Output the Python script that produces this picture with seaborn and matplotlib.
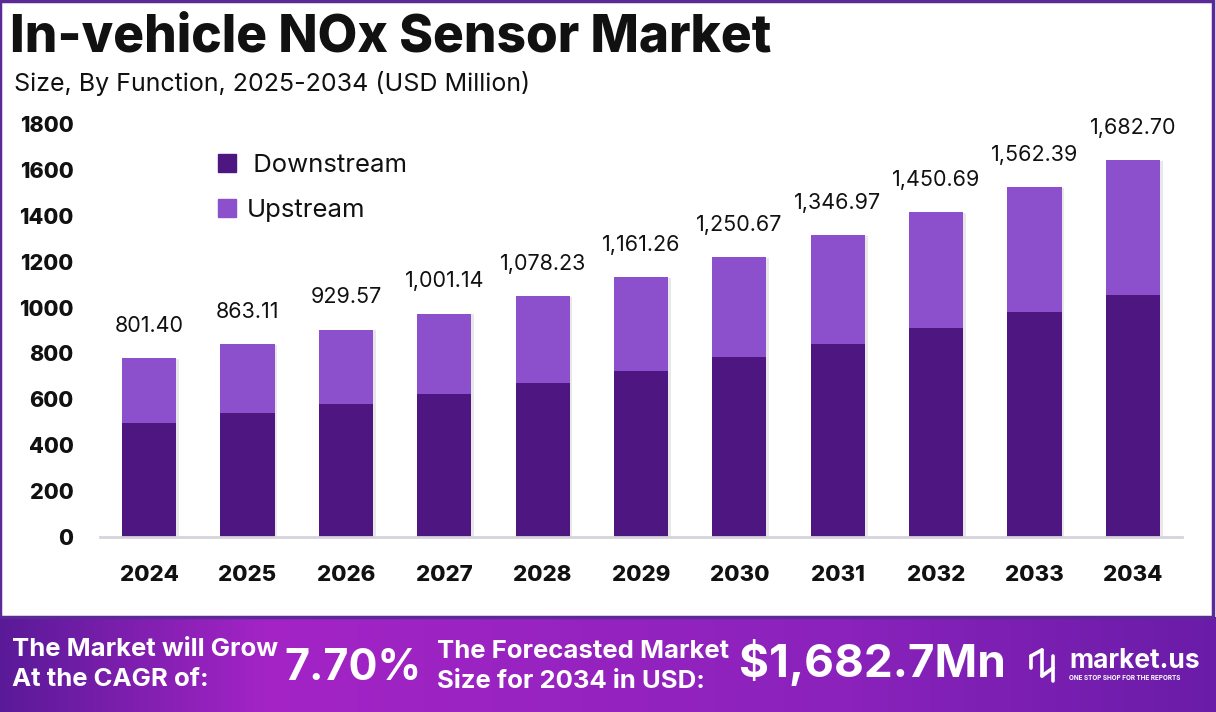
import numpy as np
import pandas as pd
import matplotlib
matplotlib.use("Agg")
import matplotlib.pyplot as plt
import matplotlib.patches as mpatches
import matplotlib.patheffects as pe
import seaborn as sns

# ---------------- data ----------------
years = ["2024", "2025", "2026", "2027", "2028", "2029", "2030", "2031", "2032", "2033", "2034"]
downstream = [499, 539, 581, 625, 673, 725, 783, 843, 909, 979, 1053]
upstream = [279, 300, 323, 349, 376, 406, 436, 472, 507, 546, 590]
total_labels = ["801.40", "863.11", "929.57", "1,001.14", "1,078.23", "1,161.26",
                "1,250.67", "1,346.97", "1,450.69", "1,562.39", "1,682.70"]
y_ticks = [0, 200, 400, 600, 800, 1000, 1200, 1400, 1600, 1800]
series_names = ["Downstream", "Upstream"]

title = "In-vehicle NOx Sensor Market"
subtitle = "Size, By Function, 2025-2034 (USD Million)"
cagr_text = "7.70%"
forecast_text = "$1,682.7Mn"

DS_COLOR = "#4E1680"
UP_COLOR = "#8C50CD"

sns.set_theme(style="white")
plt.rcParams["font.family"] = ["Inter", "DejaVu Sans"]

W, H = 1216, 712
fig = plt.figure(figsize=(W / 100, H / 100), dpi=100)
fig.patch.set_facecolor("white")

def fx(px):
    return px / W

def fy(py):
    return 1 - py / H

# ---------------- main axes ----------------
ax = fig.add_axes([fx(100), fy(537), fx(1182) - fx(100), fy(124) - fy(537)])
df = pd.DataFrame({"year": years, "Downstream": downstream, "Upstream": upstream})
df["total"] = df["Downstream"] + df["Upstream"]

shadow = [pe.SimplePatchShadow(offset=(2, -0.5), shadow_rgbFace="#999999", alpha=0.22), pe.Normal()]
sns.barplot(data=df, x="year", y="total", color=UP_COLOR, width=0.55, ax=ax,
            saturation=1, edgecolor="none")
sns.barplot(data=df, x="year", y="Downstream", color=DS_COLOR, width=0.55, ax=ax,
            saturation=1, edgecolor="none")
n_up = len(years)
for i, p in enumerate(ax.patches):
    if i < n_up:
        p.set_path_effects(shadow)

ax.set_xlim(-0.5, len(years) - 0.5)
ax.set_ylim(0, 1800)
ax.set_yticks(y_ticks)
ax.set_yticklabels([str(t) for t in y_ticks], fontsize=15.5, fontweight="heavy", color="#111111")
ax.set_xticks(range(len(years)))
ax.set_xticklabels(years, fontsize=16, fontweight="heavy", color="#111111")
ax.tick_params(axis="y", length=0, pad=19)
ax.tick_params(axis="x", length=0, pad=20)
ax.set_xlabel("")
ax.set_ylabel("")
for s in ["top", "right", "left"]:
    ax.spines[s].set_visible(False)
ax.spines["bottom"].set_color("#d6d3dc")
ax.spines["bottom"].set_linewidth(2)

for i, (t, lab) in enumerate(zip(df["total"], total_labels)):
    ax.annotate(lab, (i, t), xytext=(0, 19), textcoords="offset points",
                ha="center", va="baseline", fontsize=15.5, color="#111111")

# legend
handles = [mpatches.Patch(color=DS_COLOR, label=" " + series_names[0]),
           mpatches.Patch(color=UP_COLOR, label=series_names[1])]
leg = ax.legend(handles=handles, loc="upper left", bbox_to_anchor=(0.095, 0.965),
                frameon=False, fontsize=18.5, handlelength=0.7, handleheight=0.7,
                labelspacing=0.85, handletextpad=0.4, borderaxespad=0.2)
for t in leg.get_texts():
    t.set_color("#111111")

# ---------------- titles ----------------
fig.text(fx(10), fy(38), title, fontsize=37, fontweight="heavy", color="#111111",
         va="center", ha="left")
fig.text(fx(14), fy(83), subtitle, fontsize=18, color="#111111", va="center", ha="left")

# ---------------- border ----------------
border_color = "#5B2A96"
fig.add_artist(mpatches.Rectangle((fx(0), fy(617)), fx(1213) - fx(0), fy(1) - fy(617),
                                  fill=False, edgecolor=border_color, linewidth=2.5,
                                  transform=fig.transFigure))

# ---------------- footer ----------------
fax = fig.add_axes([0, 0, 1, fy(617)])
fax.set_axis_off()
xs = np.linspace(0, 1, 600)
c0 = np.array([0x5a, 0x1a, 0x98]) / 255
c1 = np.array([0xa4, 0x24, 0xc6]) / 255
c2 = np.array([0x8a, 0x22, 0xbb]) / 255
c3 = np.array([0x6a, 0x1c, 0xa8]) / 255
stops = [0.0, 0.22, 0.7, 1.0]
cols = [c0, c1, c2, c3]
grad = np.zeros((1, len(xs), 3))
for k in range(3):
    grad[0, :, k] = np.interp(xs, stops, [c[k] for c in cols])
fax.imshow(grad, aspect="auto", extent=[0, 1, 0, 1])
fax.set_xlim(0, 1)
fax.set_ylim(0, 1)

def ftxt(px, py, s, **kw):
    fax.text(px / W, (712 - py) / 95, s, color="white", **kw)

ftxt(12, 649, "The Market will Grow", fontsize=18.5, fontweight="bold", va="center", ha="left")
ftxt(12, 680, "At the CAGR of:", fontsize=18.5, fontweight="bold", va="center", ha="left")
ftxt(284, 668, cagr_text, fontsize=31, fontweight="bold", va="center", ha="left")
ftxt(437, 651, "The Forecasted Market", fontsize=18.5, fontweight="bold", va="center", ha="left")
ftxt(437, 682, "Size for 2034 in USD:", fontsize=18.5, fontweight="bold", va="center", ha="left")
ftxt(739, 662, forecast_text, fontsize=33, fontweight="bold", va="center", ha="left")
ftxt(1069, 661, "market.us", fontsize=19, fontweight="bold", va="center", ha="left")
ftxt(1069, 678, "ONE STOP SHOP FOR THE REPORTS", fontsize=4.6, fontweight="bold", va="center", ha="left")

# simple logo glyph
def fpt(px, py):
    return px / W, (712 - py) / 95
lw = 2.6
segs = [(1031, 656, 1031, 668), (1042, 650, 1042, 676), (1053, 656, 1053, 681),
        (1031, 656, 1042, 650), (1042, 676, 1053, 668)]
for (x0, y0, x1, y1) in segs:
    a, b = fpt(x0, y0)
    c, d = fpt(x1, y1)
    fax.plot([a, c], [b, d], color="white", lw=lw, solid_capstyle="round")

fig.savefig("out.png", dpi=100, facecolor="white")
